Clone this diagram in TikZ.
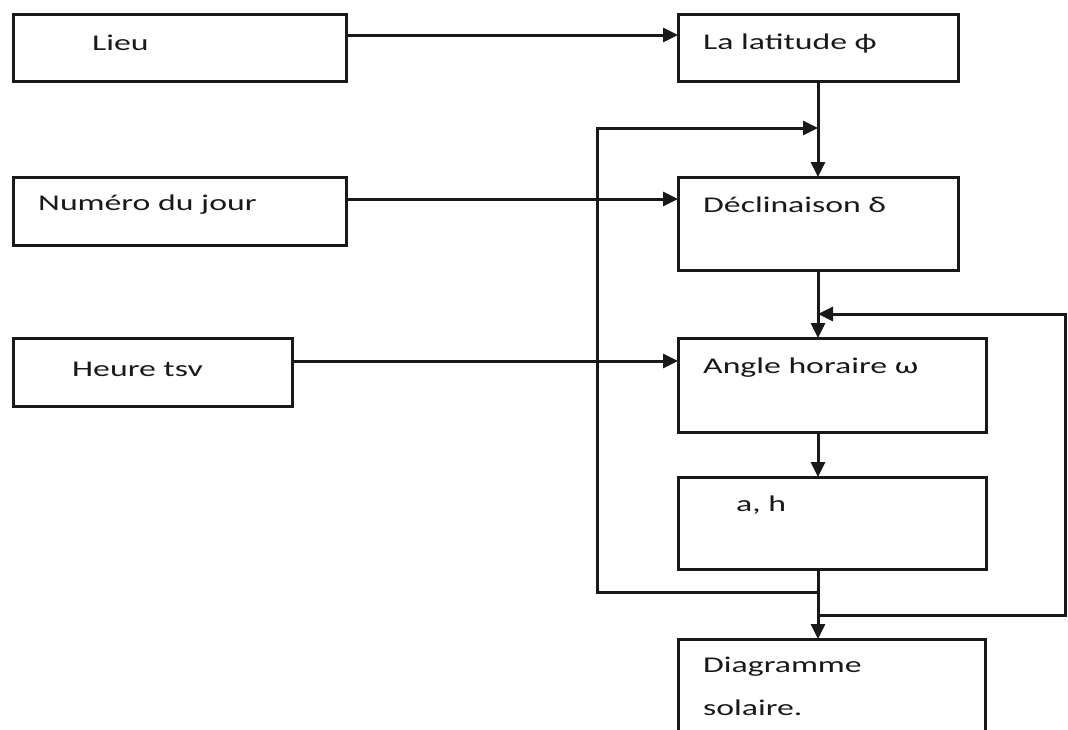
\documentclass[tikz,border=0pt]{standalone}
\usepackage{fontspec}
\setmainfont{Carlito}[FakeStretch=1.5]
\usetikzlibrary{arrows.meta}
\begin{document}
\begin{tikzpicture}[x=1pt,y=-1pt,
  box/.style={draw=black!90, line width=3pt, inner sep=0pt, outer sep=0pt, anchor=north west},
  lbl/.style={anchor=west, inner sep=0pt, text=black!90, font=\fontsize{22.5}{26}\selectfont},
  arr/.style={draw=black!90, line width=3pt, -{Triangle[length=15pt,width=14pt]}},
  ln/.style={draw=black!90, line width=3pt}]
\useasboundingbox[fill=white] (0,0) rectangle (1068,729);
\clip (0,0) rectangle (1068,729);
% boxes
\node[box, minimum width=333pt, minimum height=67pt] (lieu) at (13,14) {};
\node[box, minimum width=280pt, minimum height=67pt] (lat) at (678,14) {};
\node[box, minimum width=333pt, minimum height=68pt] (num) at (13,177) {};
\node[box, minimum width=280pt, minimum height=93pt] (dec) at (678,177) {};
\node[box, minimum width=279pt, minimum height=68pt] (heure) at (13,338) {};
\node[box, minimum width=308pt, minimum height=94pt] (ang) at (678,338) {};
\node[box, minimum width=308pt, minimum height=92pt] (ah) at (678,477) {};
\node[box, minimum width=307pt, minimum height=120pt] (diag) at (678,639) {};
% texts
\node[lbl] (lieuT) at (92,43) {Lieu};
\node[lbl] (latT) at (703,43) {La latitude ϕ};
\node[lbl] (numT) at (38,205) {Numéro du jour};
\node[lbl] (decT) at (703,205) {Déclinaison δ};
\node[lbl] (heureT) at (72,369) {Heure tsv};
\node[lbl] (angT) at (703,368) {Angle horaire ω};
\node[lbl] (ahT) at (736,505) {a, h};
\node[lbl] (diagT1) at (703,667) {Diagramme};
\node[lbl] (diagT2) at (703,708) {solaire.};
% helper coordinates
\coordinate (ya) at (0,35);
\coordinate (yb) at (0,199);
\coordinate (yc) at (0,361);
\coordinate (xm) at (818,0);
\coordinate (j1) at (818,592);
\coordinate (j2) at (818,615);
\coordinate (l1) at (597,592);
\coordinate (l2) at (597,128);
\coordinate (m1) at (818,128);
\coordinate (r1) at (1065,615);
\coordinate (r2) at (1065,314);
\coordinate (m2) at (818,314);
% input arrows
\draw[arr] (lieu.east |- ya) -- (lat.west |- ya);
\draw[arr] (num.east |- yb) -- (dec.west |- yb);
\draw[arr] (heure.east |- yc) -- (ang.west |- yc);
% main chain
\draw[arr] (lat.south) -- (dec.north);
\draw[arr] (dec.south) -- (ang.north -| xm);
\draw[arr] (ang.south -| xm) -- (ah.north -| xm);
\draw[arr] (ah.south -| xm) -- (diag.north -| xm);
% feedback loops
\draw[arr] (j1) -- (l1) -- (l2) -- (m1);
\draw[arr] (j2) -- (r1) -- (r2) -- (m2);
\end{tikzpicture}
\end{document}
